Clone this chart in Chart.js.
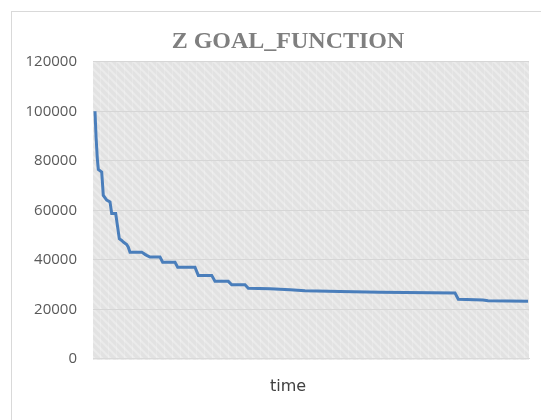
<!DOCTYPE html>
<html>
<head>
<meta charset="utf-8">
<script src="https://cdn.jsdelivr.net/npm/chart.js@4/dist/chart.umd.min.js"></script>
<style>
  html, body { margin: 0; padding: 0; background: #fff; overflow: hidden; width: 541px; height: 420px; }
  #frame {
    position: absolute; left: 11px; top: 11px;
    width: 553px; height: 420px;
    border-left: 1px solid #d9d9d9; border-top: 1px solid #d9d9d9;
  }
  #wrap { position: absolute; left: 0; top: 0; width: 553px; height: 408px; }
</style>
</head>
<body>
<div id="frame"><div id="wrap"><canvas id="c"></canvas></div></div>
<script>
// Goal function value over time (step-like decrease)
const timeSteps = [2, 3, 4.3, 5.3, 8.7, 10.3, 13.7, 17, 18.7, 22.7, 26.3, 28.7, 30.3, 33.7, 35.3, 37, 48.7, 52, 53.7, 57, 67, 69.7, 82, 84.7, 102, 105.3, 118.7, 122, 135.3, 138.7, 152, 155.3, 177, 197, 212, 247, 287, 362, 365.3, 390, 395, 435];
const goalValues = [100000, 90000, 81000, 76500, 75500, 66000, 64100, 63400, 58700, 58700, 48500, 47800, 47200, 46200, 45100, 43100, 43100, 42200, 41800, 41100, 41100, 39000, 39000, 37000, 37000, 33700, 33700, 31300, 31300, 29900, 29900, 28500, 28300, 27900, 27500, 27200, 26900, 26600, 24100, 23800, 23500, 23300];
const yTicks = [0, 20000, 40000, 60000, 80000, 100000, 120000];

const points = timeSteps.map((t, i) => ({ x: t, y: goalValues[i] }));

// Hatched plot-area fill
function makeHatch() {
  const tile = document.createElement('canvas');
  tile.width = 8; tile.height = 8;
  const g = tile.getContext('2d');
  g.fillStyle = '#e2e2e2';
  g.fillRect(0, 0, 8, 8);
  g.strokeStyle = '#ebebeb';
  g.lineWidth = 2;
  g.beginPath();
  g.moveTo(0, 0); g.lineTo(8, 8);
  g.moveTo(-4, 4); g.lineTo(4, 12);
  g.moveTo(4, -4); g.lineTo(12, 4);
  g.stroke();
  g.fillStyle = 'rgba(255,255,255,0.2)';
  g.fillRect(0, 0, 1, 8);
  return g.createPattern(tile, 'repeat');
}

const plotBg = {
  id: 'plotBg',
  beforeDraw(chart) {
    const { ctx, chartArea: a } = chart;
    ctx.save();
    ctx.fillStyle = makeHatch();
    ctx.fillRect(a.left, a.top, a.right - a.left, a.bottom - a.top + 1);
    ctx.restore();
  }
};

new Chart(document.getElementById('c'), {
  type: 'line',
  data: {
    datasets: [{
      data: points,
      borderColor: '#4a7ebb',
      borderWidth: 3,
      pointRadius: 0,
      tension: 0,
      fill: false
    }]
  },
  options: {
    responsive: true,
    maintainAspectRatio: false,
    animation: false,
    layout: { padding: { left: 13, right: 14, top: 0, bottom: 24 } },
    plugins: {
      legend: { display: false },
      tooltip: { enabled: false },
      title: {
        display: true,
        text: 'Z GOAL_FUNCTION',
        color: '#7f7f7f',
        font: { family: 'Liberation Serif', size: 24, weight: 'bold' },
        padding: { top: 15, bottom: 6 }
      },
      subtitle: {
        display: true,
        position: 'bottom',
        text: 'time',
        color: '#404040',
        font: { family: 'DejaVu Sans', size: 16 },
        padding: { top: 18, bottom: 0 }
      }
    },
    scales: {
      x: {
        type: 'linear',
        min: 0,
        max: 436,
        grid: { display: false, drawTicks: false },
        border: { display: true, color: '#d9d9d9' },
        ticks: { display: false }
      },
      y: {
        min: 0,
        max: 120000,
        afterFit(s) { s.width = 68; },
        afterBuildTicks(s) { s.ticks = yTicks.map(v => ({ value: v })); },
        grid: { color: '#d6d6d6', drawTicks: false },
        border: { display: false },
        ticks: {
          padding: 16,
          color: '#595959',
          font: { family: 'Open Sans', size: 15 },
          callback: v => String(v)
        }
      },
      // empty spacer on the right so the titles sit centred on the whole frame
      yRight: {
        position: 'right',
        afterFit(s) { s.width = 22; },
        grid: { display: false, drawTicks: false },
        border: { display: false },
        ticks: { display: false }
      }
    }
  },
  plugins: [plotBg]
});
</script>
</body>
</html>
